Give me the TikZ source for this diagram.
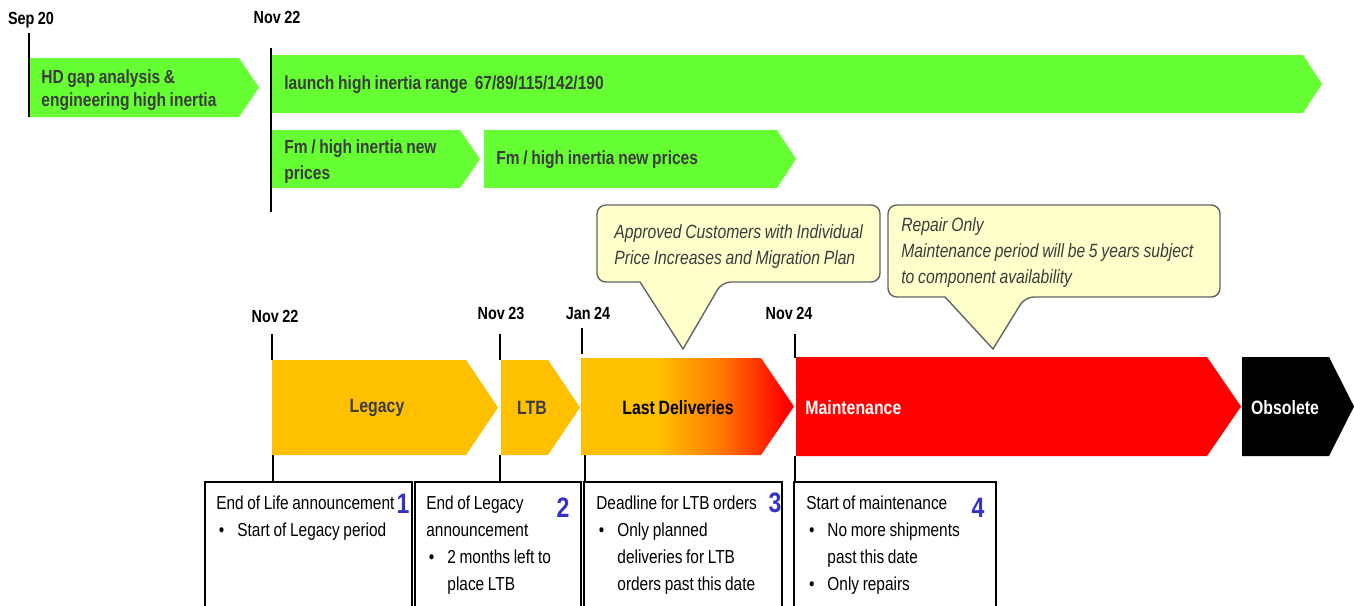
\documentclass[tikz,border=0pt]{standalone}
\usepackage{fontspec}
\setmainfont{Liberation Sans}[FakeStretch=0.82, WordSpace={0.85,0,0}]
\usetikzlibrary{positioning}

\definecolor{barGreen}{RGB}{102,255,51}
\definecolor{barYellow}{RGB}{255,192,0}
\definecolor{barOrange}{RGB}{255,120,0}
\definecolor{barRed}{RGB}{255,0,0}
\definecolor{noteFill}{RGB}{255,255,204}
\definecolor{noteLine}{RGB}{100,100,100}
\definecolor{numBlue}{RGB}{51,51,204}
\definecolor{labelGray}{RGB}{60,60,60}

\pgfdeclarehorizontalshading{lastdeliv}{100bp}{color(0bp)=(barYellow); color(43bp)=(barYellow); color(58bp)=(barOrange); color(73bp)=(barRed); color(100bp)=(barRed)}

\newcommand{\bulitem}{\hspace*{1.5pt}\makebox[10.5pt][l]{\textbullet}}
\newcommand{\bulcont}{\hspace*{12pt}}

\begin{document}
\begin{tikzpicture}[x=0.02cm, y=-0.02cm,
	datelbl/.style={font=\bfseries\fontsize{10}{12}\selectfont, inner sep=0pt},
	bartxt/.style={anchor=west, text=labelGray, font=\bfseries\fontsize{10.8}{13}\selectfont, inner sep=0pt},
	lefttxt/.style={anchor=base west, align=left, inner sep=0pt, execute at begin node={\spaceskip=0pt\xspaceskip=0pt\relax}},
	barlines/.style={lefttxt, text=labelGray, text width=150pt},
	bigtxt/.style={font=\bfseries\fontsize{11}{13}\selectfont, inner sep=0pt},
	tick/.style={line width=1.4pt},
	notebox/.style={fill=noteFill, draw=noteLine, line width=0.8pt},
	notetxt/.style={lefttxt, text width=200pt, text=labelGray},
	infobox/.style={draw, line width=0.8pt},
	infotxt/.style={lefttxt, text width=125pt, font=\fontsize{10.7}{15.4}\selectfont},
	numtxt/.style={text=numBlue, font=\bfseries\fontsize{16}{16}\selectfont, inner sep=0pt}]
	\useasboundingbox (0,0) rectangle (1354,605);
	% upper time line
	\node[datelbl] (sep20) at (31,20) {Sep 20};
	\node[datelbl] (nov22a) at (277,17) {Nov 22};
	\draw[line width=1.1pt] (29,33) -- (29,117);
	\fill[barGreen] (30,58) -- (239,58) -- (259,87.5) -- (239,117) -- (30,117) -- cycle;
	\fill[barGreen] (272,55) -- (1303,55) -- (1322,84) -- (1303,113) -- (272,113) -- cycle;
	\fill[barGreen] (272,130) -- (460,130) -- (480,159) -- (460,188) -- (272,188) -- cycle;
	\fill[barGreen] (484,130) -- (777,130) -- (796,159) -- (777,188) -- (484,188) -- cycle;
	\draw[tick] (271,48) -- (271,212);
	\node[barlines, font=\bfseries\fontsize{10.8}{13.4}\selectfont] (hdgap) at (41,83) {HD gap analysis \&\\engineering high inertia};
	\node[bartxt] (launch) at (284,85) {launch high inertia range\ \ 67/89/115/142/190};
	\node[barlines, font=\bfseries\fontsize{10.8}{14.8}\selectfont] (fmone) at (284,153) {Fm / high inertia new\\prices};
	\node[bartxt] (fmtwo) at (496,160) {Fm / high inertia new prices};
	% call-outs
	\draw[notebox] (640,282) [rounded corners=5pt] -- (597,282) -- (597,205) -- (880,205) -- (880,282) -- (722,282) [sharp corners] -- (683,349) -- cycle;
	\node[notetxt, font=\itshape\fontsize{10.9}{14.8}\selectfont] (approved) at (614,238) {Approved Customers with Individual\\Price Increases and Migration Plan};
	\draw[notebox] (945,297) [rounded corners=5pt] -- (888,297) -- (888,205) -- (1220,205) -- (1220,297) -- (1025,297) [sharp corners] -- (993,349) -- cycle;
	\node[notetxt, font=\itshape\fontsize{10.9}{15}\selectfont] (repair) at (901,231) {Repair Only\\Maintenance period will be 5 years subject\\to component availability};
	% lower time line
	\node[datelbl] (nov22b) at (275,316) {Nov 22};
	\node[datelbl] (nov23) at (501,313) {Nov 23};
	\node[datelbl] (jan24) at (588,313) {Jan 24};
	\node[datelbl] (nov24) at (789,313) {Nov 24};
	\draw[tick] (272,334) -- (272,360);
	\draw[tick] (500,334) -- (500,360);
	\draw[tick] (582,328) -- (582,354);
	\draw[tick] (795,334) -- (795,358);
	\fill[barYellow] (272,360) -- (466,360) -- (498,407.5) -- (466,455) -- (272,455) -- cycle;
	\fill[barYellow] (501,360) -- (548,360) -- (580,407.5) -- (548,455) -- (501,455) -- cycle;
	\shade[shading=lastdeliv] (581,358) -- (761,358) -- (794,406.5) -- (761,455) -- (581,455) -- cycle;
	\fill[barRed] (796,357) -- (1207,357) -- (1241,406.5) -- (1207,456) -- (796,456) -- cycle;
	\fill[black] (1242,357) -- (1329,357) -- (1354,406.5) -- (1329,456) -- (1242,456) -- cycle;
	\node[bigtxt, text=labelGray] (legacy) at (377,408) {Legacy};
	\node[bigtxt, text=labelGray] (ltb) at (532,408) {LTB};
	\node[bigtxt] (lastdel) at (678,408) {Last Deliveries};
	\node[bigtxt, text=white, anchor=west] (maint) at (805,408) {Maintenance};
	\node[bigtxt, text=white] (obsolete) at (1285,408) {Obsolete};
	\draw[tick] (273,455) -- (273,482);
	\draw[tick] (500,455) -- (500,482);
	\draw[tick] (585,455) -- (585,482);
	\draw[tick] (795,456) -- (795,482);
	% milestone boxes
	\draw[infobox] (205,606) -- (205,482) -- (412,482) -- (412,606);
	\draw[infobox] (415,606) -- (415,482) -- (581,482) -- (581,606);
	\draw[infobox] (584,606) -- (584,482) -- (782,482) -- (782,606);
	\draw[infobox] (794,606) -- (794,482) -- (996,482) -- (996,606);
	\node[infotxt] (eol) at (216,509) {End of Life announcement\\\bulitem Start of Legacy period};
	\node[infotxt] (eolegacy) at (426,509) {End of Legacy\\announcement\\\bulitem 2 months left to\\\bulcont place LTB};
	\node[infotxt] (deadline) at (596,509) {Deadline for LTB orders\\\bulitem Only planned\\\bulcont deliveries for LTB\\\bulcont orders past this date};
	\node[infotxt] (startmaint) at (806,509) {Start of maintenance\\\bulitem No more shipments\\\bulcont past this date\\\bulitem Only repairs};
	\node[numtxt] (numone) at (403,504) {1};
	\node[numtxt] (numtwo) at (563,508) {2};
	\node[numtxt] (numthree) at (775,503) {3};
	\node[numtxt] (numfour) at (978,508) {4};
\end{tikzpicture}
\end{document}
